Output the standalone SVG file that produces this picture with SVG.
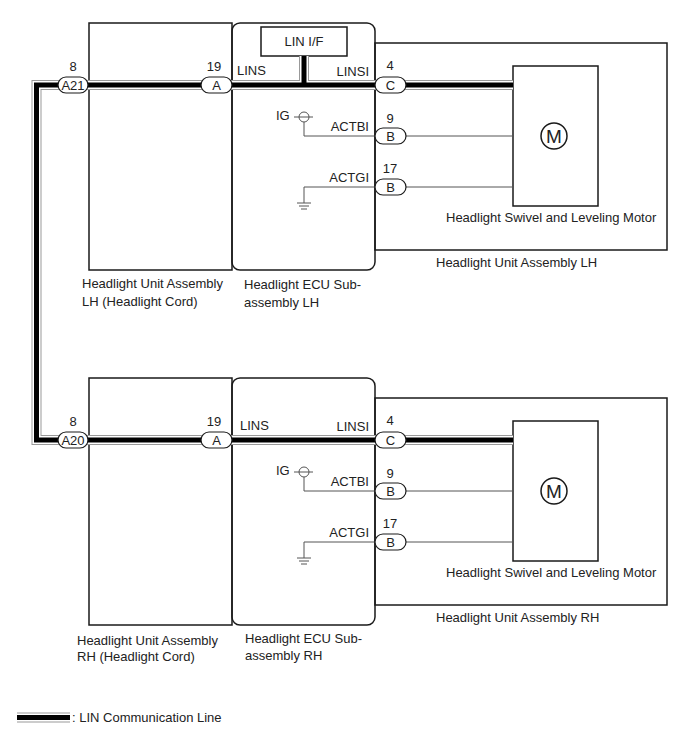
<svg xmlns="http://www.w3.org/2000/svg" width="688" height="755" viewBox="0 0 688 755">
<style>
text{font-family:"Liberation Sans",Arial,sans-serif;font-size:13px;fill:#222}
.box{fill:none;stroke:#1a1a1a;stroke-width:1.5}
.pill{fill:#fff;stroke:#1a1a1a;stroke-width:1.2}
.wire{fill:none;stroke:#555;stroke-width:1}
.l1{fill:none;stroke:#999;stroke-width:10}
.l2{fill:none;stroke:#fff;stroke-width:8}
.l3{fill:none;stroke:#000;stroke-width:5}
.m{text-anchor:middle}
.r{text-anchor:end}
</style>
<rect width="688" height="755" fill="#fff"/>

<!-- LH section boxes -->
<g id="cord-lh"><rect class="box" x="89" y="23" width="143" height="247"/>
<text x="82" y="288">Headlight Unit Assembly</text><text x="82" y="306">LH (Headlight Cord)</text></g>
<g id="unit-lh"><rect class="box" x="375" y="43" width="292" height="207"/>
<text x="436" y="267">Headlight Unit Assembly LH</text></g>
<g id="ecu-lh"><rect class="box" x="232" y="23" width="143" height="247" rx="8" fill="#fff"/>
<text x="244" y="289">Headlight ECU Sub-</text><text x="244" y="307">assembly LH</text></g>
<g id="linif-lh"><rect class="box" x="261" y="27" width="86" height="29" fill="#fff"/>
<text class="m" x="304" y="46">LIN I/F</text></g>
<g id="motor-lh"><rect class="box" x="513" y="66" width="85" height="140" fill="#fff"/>
<circle cx="554" cy="136" r="13" fill="none" stroke="#1a1a1a" stroke-width="1.5"/>
<text class="m" x="554" y="143" style="font-size:19px">M</text>
<text x="446" y="222">Headlight Swivel and Leveling Motor</text></g>

<!-- RH section boxes -->
<g id="cord-rh"><rect class="box" x="89" y="378" width="143" height="247"/>
<text x="77" y="645">Headlight Unit Assembly</text><text x="77" y="661">RH (Headlight Cord)</text></g>
<g id="unit-rh"><rect class="box" x="375" y="398" width="292" height="207"/>
<text x="436" y="622">Headlight Unit Assembly RH</text></g>
<g id="ecu-rh"><rect class="box" x="232" y="378" width="143" height="247" rx="8" fill="#fff"/>
<text x="245" y="643">Headlight ECU Sub-</text><text x="245" y="660">assembly RH</text></g>
<g id="motor-rh"><rect class="box" x="513" y="421" width="85" height="140" fill="#fff"/>
<circle cx="554" cy="491" r="13" fill="none" stroke="#1a1a1a" stroke-width="1.5"/>
<text class="m" x="554" y="498" style="font-size:19px">M</text>
<text x="446" y="577">Headlight Swivel and Leveling Motor</text></g>

<!-- connectors -->
<g id="connectors">
<path class="l1" d="M513 85H36.5V440H513M304 85V56"/>
<path class="l2" d="M513 85H36.5V440H513M304 85V56"/>
<path class="l3" d="M513 85H36.5V440H513M304 85V56"/>
<!-- LH wires -->
<path class="wire" d="M304 122V136H513M304 187H513M304 187V203"/>
<circle cx="304" cy="117" r="5" fill="#fff" stroke="#555" stroke-width="1"/>
<path class="wire" d="M294 117H313M297 203H311M299 206H309M301 209H307"/>
<!-- RH wires -->
<path class="wire" d="M304 477V491H513M304 542H513M304 542V558"/>
<circle cx="304" cy="472" r="5" fill="#fff" stroke="#555" stroke-width="1"/>
<path class="wire" d="M294 472H313M297 558H311M299 561H309M301 564H307"/>
</g>

<!-- LH pins -->
<g id="pins-lh">
<rect class="pill" x="58" y="77" width="30" height="16" rx="8"/><text class="m" x="73" y="89.5">A21</text><text class="m" x="73" y="71">8</text>
<rect class="pill" x="201" y="77" width="31" height="16" rx="8"/><text class="m" x="216.5" y="89.5">A</text><text class="m" x="214" y="71">19</text>
<rect class="pill" x="375" y="77" width="31" height="16" rx="8"/><text class="m" x="390.5" y="89.5">C</text><text class="m" x="390" y="70">4</text>
<rect class="pill" x="375" y="128" width="31" height="16" rx="8"/><text class="m" x="390.5" y="140.5">B</text><text class="m" x="390" y="123">9</text>
<rect class="pill" x="375" y="179" width="31" height="16" rx="8"/><text class="m" x="390.5" y="191.5">B</text><text class="m" x="390" y="173">17</text>
<text x="237" y="75">LINS</text><text class="r" x="369" y="76">LINSI</text>
<text x="276" y="120">IG</text>
<text class="r" x="369" y="131">ACTBI</text><text class="r" x="369" y="182">ACTGI</text>
</g>

<!-- RH pins -->
<g id="pins-rh">
<rect class="pill" x="58" y="432" width="30" height="16" rx="8"/><text class="m" x="73" y="444.5">A20</text><text class="m" x="73" y="426">8</text>
<rect class="pill" x="201" y="432" width="31" height="16" rx="8"/><text class="m" x="216.5" y="444.5">A</text><text class="m" x="214" y="426">19</text>
<rect class="pill" x="375" y="432" width="31" height="16" rx="8"/><text class="m" x="390.5" y="444.5">C</text><text class="m" x="390" y="425">4</text>
<rect class="pill" x="375" y="483" width="31" height="16" rx="8"/><text class="m" x="390.5" y="495.5">B</text><text class="m" x="390" y="478">9</text>
<rect class="pill" x="375" y="534" width="31" height="16" rx="8"/><text class="m" x="390.5" y="546.5">B</text><text class="m" x="390" y="528">17</text>
<text x="240" y="430">LINS</text><text class="r" x="369" y="431">LINSI</text>
<text x="276" y="475">IG</text>
<text class="r" x="369" y="486">ACTBI</text><text class="r" x="369" y="537">ACTGI</text>
</g>

<!-- legend -->
<g id="legend">
<path class="l1" d="M17 717.5H70"/><path class="l2" d="M17 717.5H70"/><path class="l3" d="M17 717.5H70"/>
<text x="72" y="722">: LIN Communication Line</text>
</g>
</svg>
